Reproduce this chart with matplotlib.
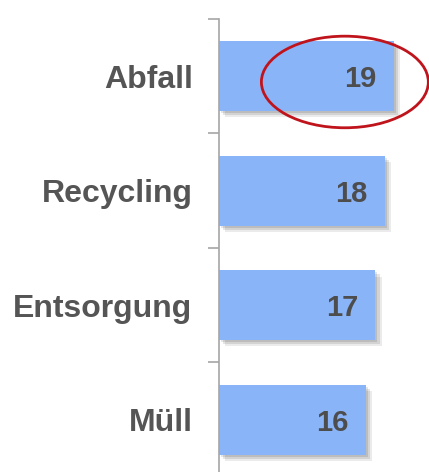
import matplotlib
matplotlib.use("Agg")
import matplotlib.pyplot as plt
import matplotlib.patheffects as pe
from matplotlib.patches import Ellipse

# data
categories = ["Abfall", "Recycling", "Entsorgung", "Müll"]
values = [19, 18, 17, 16]
highlight = "Abfall"

plt.rcParams["font.family"] = ["Liberation Sans", "DejaVu Sans"]

fig = plt.figure(figsize=(4.29, 4.72), dpi=100)
ax = fig.add_axes([219 / 429, 0, 1 - 219 / 429, 453 / 472])

pos = list(range(len(categories)))
bars = ax.barh(pos, values, height=0.61, color="#8AB4F8", zorder=2)

shadow = [
    pe.SimplePatchShadow(offset=(1.5, -1.5), shadow_rgbFace="#000000", alpha=0.10),
    pe.SimplePatchShadow(offset=(3, -3), shadow_rgbFace="#000000", alpha=0.10),
    pe.SimplePatchShadow(offset=(4.5, -4.5), shadow_rgbFace="#000000", alpha=0.08),
    pe.Normal(),
]
for b in bars:
    b.set_path_effects(shadow)

for p, v in zip(pos, values):
    ax.text(v - 1.9, p, str(v), ha="right", va="center_baseline", fontsize=21,
            fontweight="bold", color="#4d4d4d", zorder=3)

ax.set_xlim(0, 210 / 9.2)
ax.set_ylim(-0.5 + 453 / 114.5, -0.5)

ax.set_yticks(pos)
ax.set_yticklabels(categories, fontsize=23, fontweight="bold", color="#555555")
ax.tick_params(axis="y", which="major", length=0, pad=19)
ax.set_yticks([p - 0.5 for p in pos], minor=True)
ax.tick_params(axis="y", which="minor", length=8, width=1.2, color="#a6a6a6")
ax.set_xticks([])

for s in ["top", "right", "bottom"]:
    ax.spines[s].set_visible(False)
ax.spines["left"].set_color("#a6a6a6")
ax.spines["left"].set_linewidth(1.2)

# red circle round the top bar's value
i = categories.index(highlight)
v = values[i]
ell = Ellipse((v * 0.72, i + 0.05), width=v * 0.955, height=0.80,
              fill=False, edgecolor="#c0141c", linewidth=2, clip_on=False, zorder=4)
ax.add_patch(ell)

fig.savefig("out.png", dpi=100, facecolor="white")
